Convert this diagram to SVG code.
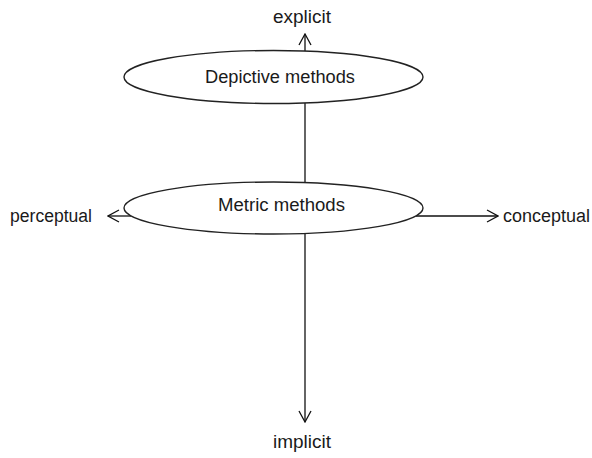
<svg xmlns="http://www.w3.org/2000/svg" width="592" height="458" viewBox="0 0 592 458">
<defs>
<marker id="arr" viewBox="0 0 14 14" refX="13" refY="7" markerWidth="14" markerHeight="14" markerUnits="userSpaceOnUse" orient="auto">
<path d="M2,1 L13,7 L2,13" fill="none" stroke="#111" stroke-width="1.3"/>
</marker>
<style>
.node ellipse{fill:#fff;stroke:#222;stroke-width:1.4}
text{font-family:"Liberation Sans",Arial,sans-serif;font-size:18px;fill:#1a1a1a}
.c line{stroke:#111;stroke-width:1.3;fill:none}
</style>
</defs>
<g id="connectors" class="c">
<line x1="305" y1="103" x2="305" y2="182"/>
<line x1="305" y1="51" x2="305" y2="34" marker-end="url(#arr)"/>
<line x1="305" y1="234" x2="305" y2="422" marker-end="url(#arr)"/>
<line x1="131" y1="216" x2="108" y2="216" marker-end="url(#arr)"/>
<line x1="416" y1="216" x2="498" y2="216" marker-end="url(#arr)"/>
</g>
<g id="depictive" class="node">
<ellipse cx="273.5" cy="77" rx="149.5" ry="26.5"/>
<text x="205" y="83" textLength="150" lengthAdjust="spacingAndGlyphs">Depictive methods</text>
</g>
<g id="metric" class="node">
<ellipse cx="273.5" cy="208" rx="149.5" ry="26"/>
<text x="218" y="211" textLength="127" lengthAdjust="spacingAndGlyphs">Metric methods</text>
</g>
<g id="explicit"><text x="273" y="23" textLength="58" lengthAdjust="spacingAndGlyphs">explicit</text></g>
<g id="implicit"><text x="273" y="448" textLength="58" lengthAdjust="spacingAndGlyphs">implicit</text></g>
<g id="perceptual"><text x="10" y="222" textLength="82" lengthAdjust="spacingAndGlyphs">perceptual</text></g>
<g id="conceptual"><text x="503" y="222" textLength="87" lengthAdjust="spacingAndGlyphs">conceptual</text></g>
</svg>
